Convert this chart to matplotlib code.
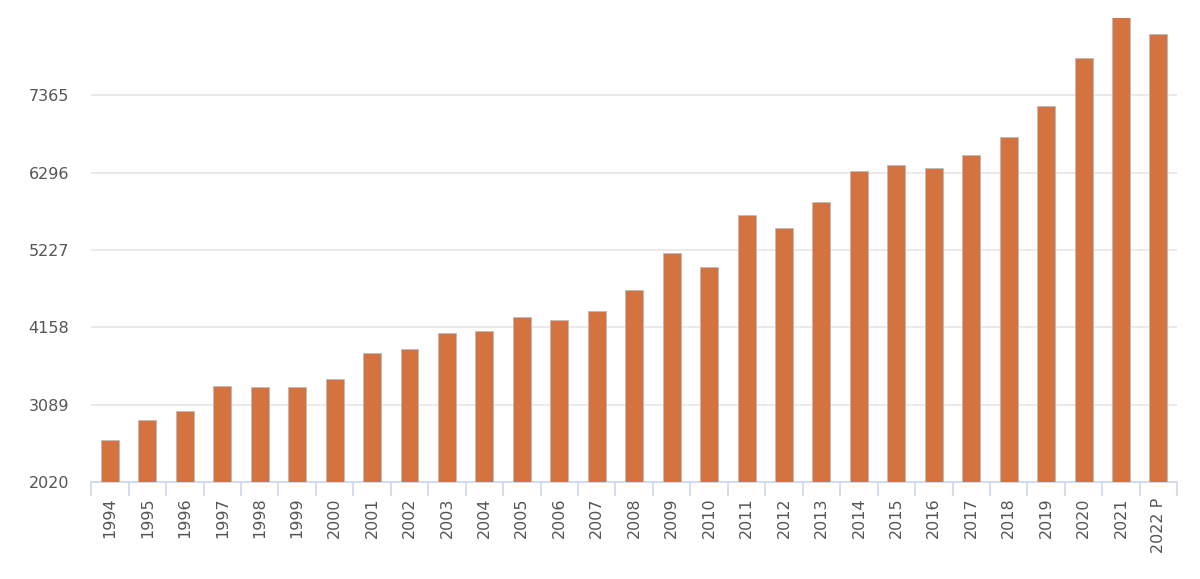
import matplotlib.pyplot as plt
import numpy as np

# 年份和数值
years = ['1994', '1995', '1996', '1997', '1998', '1999', '2000', '2001', '2002', '2003',
         '2004', '2005', '2006', '2007', '2008', '2009', '2010', '2011', '2012', '2013',
         '2014', '2015', '2016', '2017', '2018', '2019', '2020', '2021', '2022 P']
values = [2600, 2876, 3001, 3346, 3332, 3332, 3443, 3802, 3857, 4078,
          4105, 4299, 4257, 4382, 4672, 5183, 4989, 5708, 5528, 5887,
          6315, 6398, 6357, 6536, 6785, 7213, 7876, 8442, 8207]
yticks = [2020, 3089, 4158, 5227, 6296, 7365]

fig = plt.figure(figsize=(12, 5.79), dpi=100)
ax = fig.add_axes([0.076, 0.1675, 0.905, 0.8015])

x = np.arange(len(years))
ax.bar(x, values, width=0.48, color='#d4733f', edgecolor='#bbbbbb', linewidth=0.6, zorder=3)

ax.set_xlim(-0.5, len(years) - 0.5)
ax.set_ylim(2020, 8434)
ax.set_yticks(yticks)
ax.set_yticklabels([str(v) for v in yticks])
ax.set_xticks(x)
ax.set_xticklabels(years, rotation=90)
# 类别之间的刻度线
ax.set_xticks(np.arange(len(years) + 1) - 0.5, minor=True)

ax.grid(axis='y', color='#e6e6e6', linewidth=1.2, zorder=0)
for s in ['top', 'right', 'left']:
    ax.spines[s].set_visible(False)
ax.spines['bottom'].set_color('#ccd6eb')
ax.spines['bottom'].set_linewidth(1.2)

ax.tick_params(axis='x', which='major', length=0, pad=11, labelsize=11.5, labelcolor='#555555')
ax.tick_params(axis='x', which='minor', length=10, width=1.2, color='#ccd6eb')
ax.tick_params(axis='y', length=0, pad=16, labelsize=11.5, labelcolor='#555555')

fig.savefig('out.png', dpi=100, facecolor='white')
